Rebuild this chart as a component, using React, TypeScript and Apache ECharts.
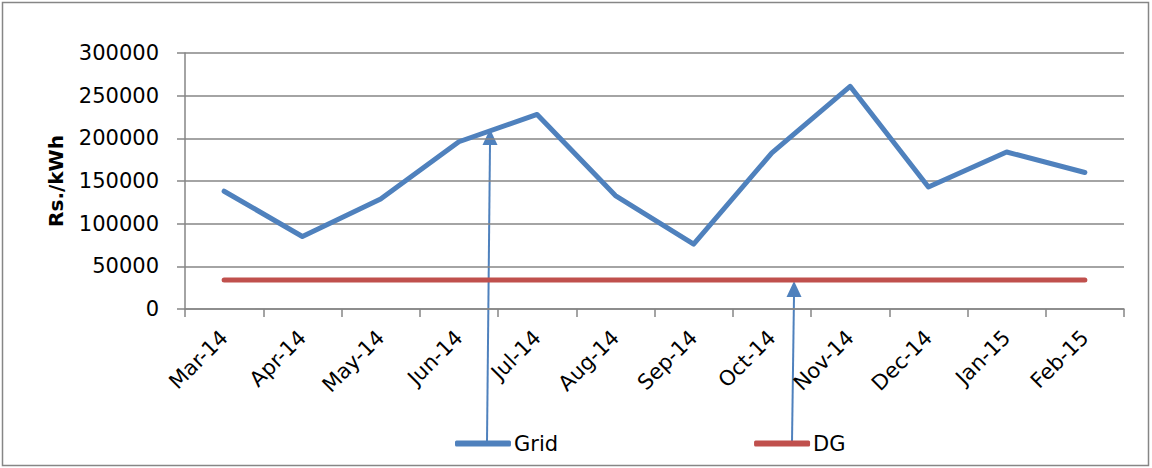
import React, { useEffect, useRef } from "react";
import * as echarts from "echarts";

// Monthly tariff cost, Rs./kWh
const months = [
  "Mar-14", "Apr-14", "May-14", "Jun-14", "Jul-14", "Aug-14",
  "Sep-14", "Oct-14", "Nov-14", "Dec-14", "Jan-15", "Feb-15",
];
const gridValues = [
  138000, 85000, 129000, 196000, 228000, 133000,
  76000, 183000, 261000, 143000, 184000, 160000,
];
const dgValues = [
  34000, 34000, 34000, 34000, 34000, 34000,
  34000, 34000, 34000, 34000, 34000, 34000,
];
const yTicks = { min: 0, max: 300000, interval: 50000 };

const GRID_BLUE = "#4F81BD";
const DG_RED = "#C0504D";
const AXIS_GREY = "#868686";
const FONT = "DejaVu Sans";

// Callout arrow: shaft from a legend entry up to a tip, with a filled head
function arrow(x0: number, y0: number, tx: number, ty: number) {
  const headLen = 15;
  const headHalf = 7.5;
  return {
    type: "group",
    z: 100,
    children: [
      {
        type: "line",
        shape: { x1: x0, y1: y0, x2: tx, y2: ty + headLen },
        style: { stroke: GRID_BLUE, lineWidth: 2 },
      },
      {
        type: "polygon",
        shape: {
          points: [
            [tx, ty],
            [tx - headHalf, ty + headLen + 1],
            [tx + headHalf, ty + headLen + 1],
          ],
        },
        style: { fill: GRID_BLUE },
      },
    ],
  };
}

export default function App() {
  const ref = useRef<HTMLDivElement>(null);

  useEffect(() => {
    document.body.style.margin = "0";
    if (!ref.current) return;
    const chart = echarts.init(ref.current, undefined, { renderer: "svg" });
    chart.setOption({
      animation: false,
      backgroundColor: "#ffffff",
      textStyle: { fontFamily: FONT },
      grid: { left: 185, right: 28, top: 53, bottom: 159 },
      legend: {
        left: 450,
        top: 428,
        icon: "roundRect",
        itemWidth: 56,
        itemHeight: 6,
        itemGap: 196,
        textStyle: { fontFamily: FONT, fontSize: 21, color: "#000", padding: [0, 0, 0, -2] },
        data: ["Grid", "DG"],
      },
      xAxis: {
        type: "category",
        data: months,
        boundaryGap: true,
        axisLine: { lineStyle: { color: AXIS_GREY, width: 1.5 } },
        axisTick: { show: true, length: 8, alignWithLabel: false, lineStyle: { color: AXIS_GREY, width: 1.5 } },
        axisLabel: {
          rotate: 45,
          margin: 25,
          interval: 0,
          fontFamily: FONT,
          fontSize: 21,
          color: "#000",
        },
        splitLine: { show: false },
      },
      yAxis: {
        type: "value",
        min: yTicks.min,
        max: yTicks.max,
        interval: yTicks.interval,
        name: "Rs./kWh",
        nameLocation: "middle",
        nameGap: 119,
        nameTextStyle: { fontFamily: FONT, fontSize: 20, fontWeight: "bold", color: "#000" },
        axisLine: { show: true, lineStyle: { color: AXIS_GREY, width: 1.5 } },
        axisTick: { show: true, length: 8, lineStyle: { color: AXIS_GREY, width: 1.5 } },
        axisLabel: {
          margin: 26,
          fontFamily: FONT,
          fontSize: 21,
          color: "#000",
          formatter: (v: number) => String(v),
        },
        splitLine: { show: true, lineStyle: { color: AXIS_GREY, width: 1.5 } },
      },
      series: [
        {
          name: "Grid",
          type: "line",
          data: gridValues,
          symbol: "none",
          lineStyle: { color: GRID_BLUE, width: 5, cap: "round", join: "round" },
          itemStyle: { color: GRID_BLUE },
          z: 3,
        },
        {
          name: "DG",
          type: "line",
          data: dgValues,
          symbol: "none",
          lineStyle: { color: DG_RED, width: 5, cap: "round" },
          itemStyle: { color: DG_RED },
          z: 2,
        },
      ],
      graphic: [
        {
          type: "rect",
          shape: { x: 2.5, y: 2.5, width: 1146, height: 463 },
          style: { fill: "none", stroke: AXIS_GREY, lineWidth: 1.5 },
          z: 0,
        },
        arrow(487, 442, 490, 129),
        arrow(792, 442, 794, 281),
      ],
    });
    return () => chart.dispose();
  }, []);

  return <div ref={ref} style={{ width: 1152, height: 468 }} />;
}
